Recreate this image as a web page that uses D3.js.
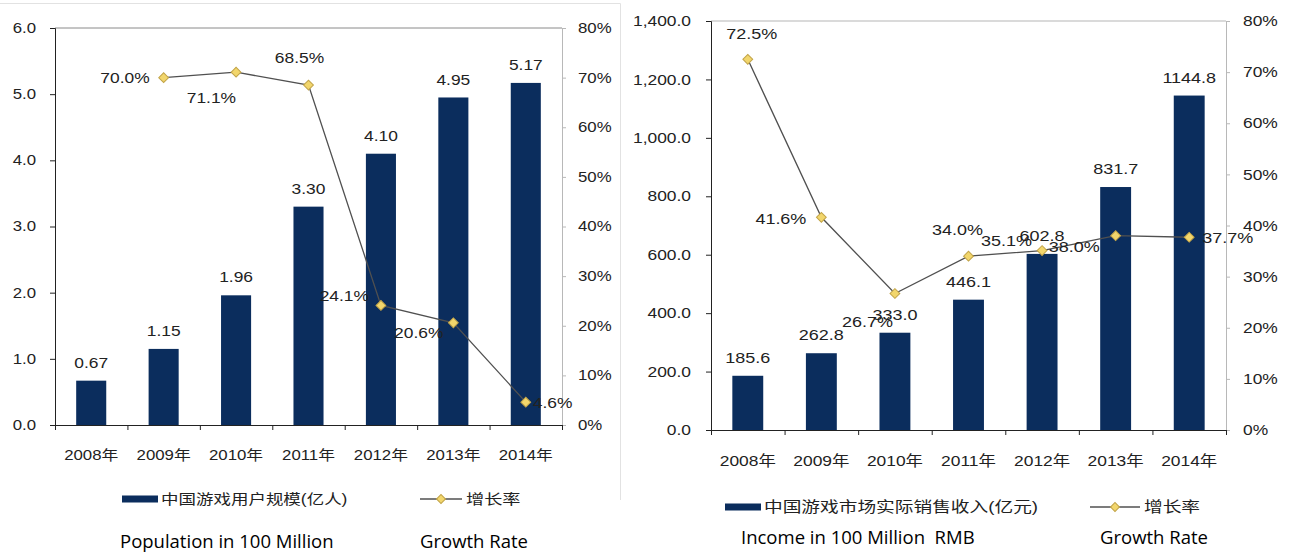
<!DOCTYPE html>
<html>
<head>
<meta charset="utf-8">
<script src="https://cdn.jsdelivr.net/npm/d3@7"></script>
<style>
  body { margin: 0; background: #fff; }
  svg { display: block; }
  text { font-family: "Liberation Sans", Arial, "Noto Sans CJK SC", sans-serif; fill: #222; }
  .cap { font-family: "Open Sans", sans-serif; white-space: pre; fill: #000; }
</style>
</head>
<body>
<svg id="chart" width="1290" height="553"></svg>
<script>
// ---- data ----
const years = ["2008年", "2009年", "2010年", "2011年", "2012年", "2013年", "2014年"];
const users = [0.67, 1.15, 1.96, 3.30, 4.10, 4.95, 5.17];          // 亿人
const userGrowthYears = ["2009年", "2010年", "2011年", "2012年", "2013年", "2014年"];
const userGrowth = [0.700, 0.711, 0.685, 0.241, 0.206, 0.046];
const revenue = [185.6, 262.8, 333.0, 446.1, 602.8, 831.7, 1144.8];  // 亿元
const revenueGrowth = [0.725, 0.416, 0.267, 0.340, 0.351, 0.380, 0.377];
const userTicks = [0, 1, 2, 3, 4, 5, 6];
const revenueTicks = [0, 200, 400, 600, 800, 1000, 1200, 1400];
const pctTicks = [0, 0.1, 0.2, 0.3, 0.4, 0.5, 0.6, 0.7, 0.8];
const userLegend = ["中国游戏用户规模(亿人)", "增长率"];
const revenueLegend = ["中国游戏市场实际销售收入(亿元)", "增长率"];
const userCaptions = ["Population in 100 Million", "Growth Rate"];
const revenueCaptions = ["Income in 100 Million  RMB", "Growth Rate"];

// ---- styling ----
const BAR = "#0b2d5d";
const LINE = "#505050";
const DIAMOND_FILL = "#f2d66c";
const DIAMOND_STROKE = "#c2a448";

const svg = d3.select("#chart");

// text with a slight horizontal stretch
function label(g, x, y, s, o = {}) {
  return g.append("text")
    .attr("transform", `translate(${x},${y}) scale(${o.sx || 1},1)`)
    .attr("text-anchor", o.anchor || "middle")
    .attr("dy", "0.35em")
    .style("font-size", (o.size || 14) + "px")
    .text(s);
}

function stretchAxisText(axisG, sx, size) {
  axisG.attr("font-family", null).attr("font-size", null);
  axisG.selectAll("text").each(function () {
    const t = d3.select(this);
    const x = +t.attr("x") || 0;
    const y = +t.attr("y") || 0;
    t.attr("x", null).attr("y", null)
      .attr("transform", `translate(${x},${y}) scale(${sx},1)`)
      .style("font-size", size + "px")
      .style("fill", "#222");
  });
}

function diamond(g, x, y, size) {
  g.append("path")
    .attr("d", d3.symbol(d3.symbolSquare, size)())
    .attr("transform", `translate(${x},${y}) rotate(45)`)
    .attr("fill", DIAMOND_FILL)
    .attr("stroke", DIAMOND_STROKE)
    .attr("stroke-width", 1);
}

function drawPanel(p) {
  const g = svg.append("g");

  const x = d3.scaleBand().domain(years).range([p.x0, p.x1])
    .paddingInner(p.barPad).paddingOuter(p.barPad / 2);
  const xEdge = d3.scaleLinear().domain([0, years.length]).range([p.x0, p.x1]);
  const y = d3.scaleLinear().domain([0, p.yMax]).range([p.yBot, p.yTop]);
  const yp = d3.scaleLinear().domain([0, 0.8]).range([p.yBot, p.yTop]);
  const cx = d => x(d) + x.bandwidth() / 2;

  // top border of the plot
  g.append("line")
    .attr("x1", p.x0).attr("x2", p.x1)
    .attr("y1", p.yTop).attr("y2", p.yTop)
    .attr("stroke", p.topColor).attr("stroke-width", 1);

  // bars
  g.selectAll("rect.bar").data(p.values).join("rect")
    .attr("class", "bar")
    .attr("x", (d, i) => x(years[i]))
    .attr("width", x.bandwidth())
    .attr("y", d => y(d))
    .attr("height", d => p.yBot - y(d))
    .attr("fill", BAR);

  // left axis
  const yl = g.append("g").attr("transform", `translate(${p.x0},0)`)
    .call(d3.axisLeft(y).tickValues(p.ticks).tickFormat(d3.format(p.fmt))
      .tickSize(5).tickPadding(p.tickPad));
  yl.selectAll("path,line").attr("stroke", "#222");
  stretchAxisText(yl, p.sx, p.size);

  // right axis (percent)
  const yr = g.append("g").attr("transform", `translate(${p.x1},0)`)
    .call(d3.axisRight(yp).tickValues(pctTicks).tickFormat(d3.format(".0%"))
      .tickSize(4).tickPadding(p.tickPad - 2));
  yr.selectAll("path,line").attr("stroke", "#b8b8b8");
  stretchAxisText(yr, p.sx, p.size);

  // bottom axis with ticks on category boundaries
  const xb = g.append("g").attr("transform", `translate(0,${p.yBot})`)
    .call(d3.axisBottom(xEdge).tickValues(d3.range(years.length + 1))
      .tickFormat("").tickSize(5).tickSizeOuter(0));
  xb.selectAll("path,line").attr("stroke", "#222");

  // category labels
  years.forEach(d => label(g, cx(d), p.xLabelY, d, { size: p.size, sx: p.sx }));

  // bar value labels
  p.values.forEach((v, i) =>
    label(g, cx(years[i]), y(v) - p.valueGap, d3.format(p.valFmt)(v), { size: p.valSize, sx: p.sx }));

  // growth line
  const pts = p.growth.map((v, i) => [cx(p.growthYears[i]), yp(v)]);
  g.append("path")
    .attr("d", d3.line()(pts))
    .attr("fill", "none")
    .attr("stroke", LINE)
    .attr("stroke-width", 1.3);
  pts.forEach(([px, py]) => diamond(g, px, py, 48));

  // growth labels
  p.growth.forEach((v, i) => {
    const o = p.growthPos[i];
    label(g, pts[i][0] + o[0], pts[i][1] + o[1], d3.format(".1%")(v),
      { size: p.valSize, sx: p.sx, anchor: o[2] });
  });

  // legend
  const L = p.legend;
  g.append("rect")
    .attr("x", L.swX).attr("y", L.y - 3.5)
    .attr("width", L.swW).attr("height", 7)
    .attr("fill", BAR);
  label(g, L.swX + L.swW + 3, L.y, p.legendText[0], { size: L.size, sx: L.sx0, anchor: "start" });
  g.append("line")
    .attr("x1", L.lnX).attr("x2", L.lnX + L.lnW)
    .attr("y1", L.y).attr("y2", L.y)
    .attr("stroke", LINE).attr("stroke-width", 1.3);
  diamond(g, L.lnX + L.lnW / 2, L.y, 40);
  label(g, L.lnX + L.lnW + 4, L.y, p.legendText[1], { size: L.size, sx: L.sx1, anchor: "start" });

  // captions
  p.captions.forEach((c, i) =>
    g.append("text").attr("class", "cap")
      .attr("x", p.capX[i]).attr("y", p.capY).attr("dy", "0.35em")
      .style("font-size", "18.5px").text(c));
}

// frame of the left figure
svg.append("path")
  .attr("d", "M0,3.5H620.5V500")
  .attr("fill", "none")
  .attr("stroke", "#e2e2e2");

drawPanel({
  x0: 55, x1: 562, yTop: 28, yBot: 425, yMax: 6, barPad: 0.585,
  ticks: userTicks, fmt: ".1f", valFmt: ".2f", tickPad: 14,
  values: users, growth: userGrowth, growthYears: userGrowthYears,
  growthPos: [[-14, 0, "end"], [0, 26, "end"], [-9, -27, "middle"],
              [-12, -9, "end"], [-10, 10, "end"], [7, 1, "start"]],
  size: 14, valSize: 14.5, sx: 1.2, xLabelY: 455, valueGap: 18,
  topColor: "#8a8a8a",
  legendText: userLegend,
  legend: { y: 499, swX: 122, swW: 36, lnX: 420, lnW: 42, size: 14, sx0: 1.25, sx1: 1.3 },
  captions: userCaptions, capX: [120, 420], capY: 542
});

drawPanel({
  x0: 711, x1: 1226, yTop: 21, yBot: 430, yMax: 1400, barPad: 0.58,
  ticks: revenueTicks, fmt: ",.1f", valFmt: ".1f", tickPad: 15,
  values: revenue, growth: revenueGrowth, growthYears: years,
  growthPos: [[4, -26, "middle"], [-15, 1, "end"], [-2, 28, "end"],
              [-11, -26, "middle"], [-10, -10, "end"], [-16, 11, "end"], [13, 0, "start"]],
  size: 14.5, valSize: 15, sx: 1.2, xLabelY: 461, valueGap: 18,
  topColor: "#b5b5b5",
  legendText: revenueLegend,
  legend: { y: 507, swX: 725, swW: 36, lnX: 1090, lnW: 50, size: 14.5, sx0: 1.29, sx1: 1.29 },
  captions: revenueCaptions, capX: [741, 1100], capY: 538
});
</script>
</body>
</html>
